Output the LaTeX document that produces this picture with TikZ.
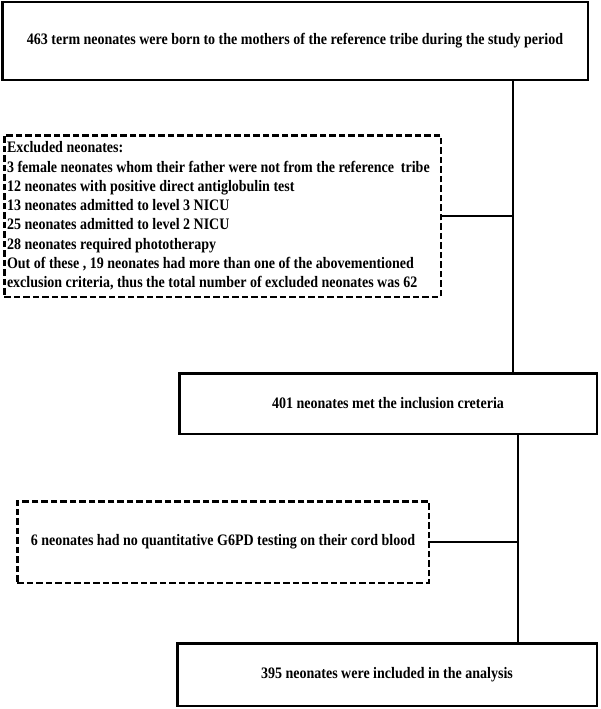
\documentclass[tikz,border=0pt]{standalone}
\usepackage{fontspec}
\setmainfont{Liberation Serif}[FakeStretch=0.875]
\begin{document}
\begin{tikzpicture}[x=1pt, y=-1pt,
		box/.style={draw, line width=2.5pt, inner sep=0pt, align=center,
				font=\fontsize{16}{19.3}\selectfont\bfseries},
		dbox/.style={box, dash pattern=on 6.5pt off 3pt},
		link/.style={line width=1.3pt}]

		% Рамка рисунка
		\useasboundingbox (0,0) rectangle (600,709);

		% Блоки
		\node[box, minimum width=585.5pt, minimum height=77.5pt] (born) at (295,41)
			{463 term neonates were born to the mothers of the reference tribe during the study period};
		\node[dbox, text width=431pt, inner xsep=2.75pt, minimum height=161.5pt, align=flush left] (excl) at (222.5,216)
			{Excluded neonates:\\
			3 female neonates whom their father were not from the reference\ \ tribe\\
			12 neonates with positive direct antiglobulin test\\
			13 neonates admitted to level 3 NICU\\
			25 neonates admitted to level 2 NICU\\
			28 neonates required phototherapy\\
			Out of these , 19 neonates had more than one of the abovementioned\\
			exclusion criteria, thus the total number of excluded neonates was 62};
		\node[box, minimum width=417.5pt, minimum height=60.5pt] (incl) at (388,403.5)
			{401 neonates met the inclusion creteria};
		\node[dbox, minimum width=411.5pt, minimum height=81.5pt] (notest) at (223,542)
			{6 neonates had no quantitative G6PD testing on their cord blood};
		\node[box, minimum width=419.5pt, minimum height=62.5pt] (final) at (387,674.5)
			{395 neonates were included in the analysis};

		% Линии
		\coordinate (spineA) at (513,0);
		\coordinate (spineB) at (518,0);
		\draw[link] (born.south -| spineA) -- (incl.north -| spineA);
		\draw[link] (excl.east) -- (excl.east -| spineA);
		\draw[link] (incl.south -| spineB) -- (final.north -| spineB);
		\draw[link] (notest.east) -- (notest.east -| spineB);
	\end{tikzpicture}
\end{document}
